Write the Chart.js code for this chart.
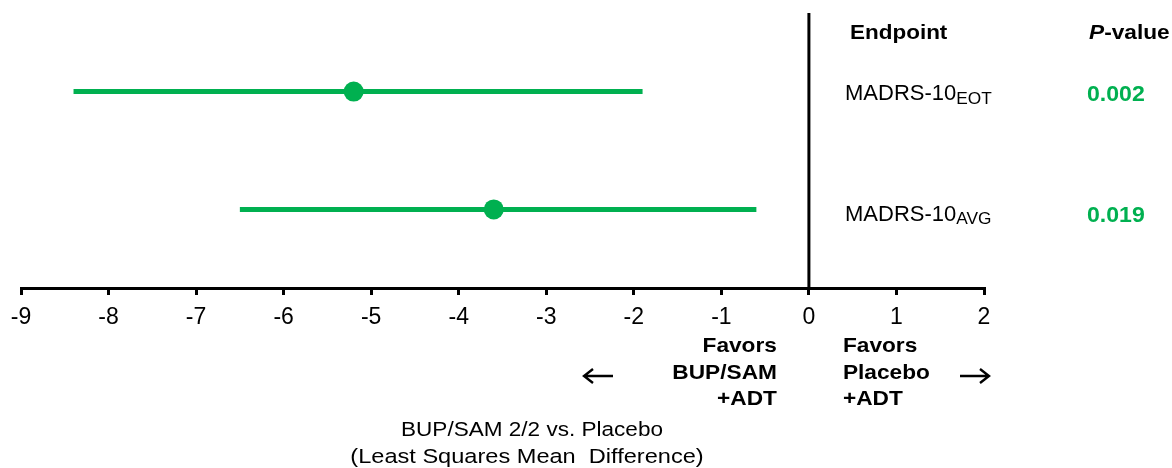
<!DOCTYPE html>
<html>
<head>
<meta charset="utf-8">
<title>Forest plot</title>
<script src="https://cdn.jsdelivr.net/npm/chart.js@4.4.1/dist/chart.umd.min.js"></script>
<style>
  html, body { margin: 0; padding: 0; background: #fff; }
  #wrap { position: relative; width: 1172px; height: 468px; }
</style>
</head>
<body>
<div id="wrap"><canvas id="forest"></canvas></div>
<script>
  // endpoints, estimates and confidence limits (LS mean difference)
  var endpoints = ['MADRS-10', 'MADRS-10'];
  var endpointSubs = ['EOT', 'AVG'];
  var estimates = [-5.2, -3.6];
  var lowerCI = [-8.4, -6.5];
  var upperCI = [-1.9, -0.6];
  var pValues = ['0.002', '0.019'];
  var rowY = [5, 2];
  var xTicks = [-9, -8, -7, -6, -5, -4, -3, -2, -1, 0, 1, 2];

  var green = '#00b050';
  var font = "'Liberation Sans', Arial, sans-serif";

  var datasets = [];

  // no-effect line at zero
  datasets.push({
    data: [{ x: 0, y: 0 }, { x: 0, y: 7 }],
    showLine: true,
    borderColor: '#000',
    borderWidth: 3,
    pointRadius: 0
  });

  // one horizontal bar per endpoint for the CI
  for (var i = 0; i < endpoints.length; i++) {
    datasets.push({
      data: [{ x: lowerCI[i], y: rowY[i] }, { x: upperCI[i], y: rowY[i] }],
      showLine: true,
      borderColor: green,
      borderWidth: 5,
      borderCapStyle: 'butt',
      pointRadius: 0
    });
  }

  // point estimates
  datasets.push({
    data: estimates.map(function(v, i) { return { x: v, y: rowY[i] }; }),
    backgroundColor: green,
    borderColor: green,
    pointRadius: 10,
    pointBorderWidth: 0
  });

  // text drawn a bit wider than the font's own proportions
  function wideText(ctx, text, x, y, sx) {
    ctx.save();
    ctx.translate(x, y);
    ctx.scale(sx, 1);
    ctx.fillText(text, 0, 0);
    ctx.restore();
  }

  function arrow(ctx, x0, x1, y) {
    var dir = x1 > x0 ? 1 : -1;
    ctx.beginPath();
    ctx.moveTo(x0, y);
    ctx.lineTo(x1, y);
    ctx.moveTo(x1 - dir * 9, y - 7);
    ctx.lineTo(x1, y);
    ctx.lineTo(x1 - dir * 9, y + 7);
    ctx.stroke();
  }

  var textPlugin = {
    id: 'forestText',
    afterDraw: function(chart) {
      var ctx = chart.ctx;
      var area = chart.chartArea;
      var xs = chart.scales.x;
      var ys = chart.scales.y;
      var colA = area.right - 140;
      var colB = area.right + 103;
      var rowShift = [8.5, 11.5];
      ctx.save();
      ctx.fillStyle = '#000';
      ctx.textBaseline = 'alphabetic';

      // column headers
      ctx.textAlign = 'left';
      ctx.font = 'bold 21px ' + font;
      wideText(ctx, 'Endpoint', colA + 6, 39, 1.07);
      ctx.font = 'italic bold 21px ' + font;
      var pw = ctx.measureText('P').width * 1.08;
      wideText(ctx, 'P', colB + 2, 39, 1.08);
      ctx.font = 'bold 21px ' + font;
      wideText(ctx, '-value', colB + 2 + pw, 39, 1.08);

      // rows: endpoint name with subscript, p-value
      for (var i = 0; i < endpoints.length; i++) {
        var y = ys.getPixelForValue(rowY[i]) + rowShift[i];
        ctx.fillStyle = '#000';
        ctx.font = '22px ' + font;
        ctx.fillText(endpoints[i], colA + 1, y);
        var w = ctx.measureText(endpoints[i]).width;
        ctx.font = '16px ' + font;
        wideText(ctx, endpointSubs[i], colA + 1 + w, y + 3.5, 1.08);
        ctx.fillStyle = green;
        ctx.font = 'bold 22px ' + font;
        wideText(ctx, pValues[i], colB, y + 1, 1.05);
      }

      // direction labels under the axis
      var zx = xs.getPixelForValue(0);
      ctx.fillStyle = '#000';
      ctx.font = 'bold 21px ' + font;
      ctx.textAlign = 'left';
      ['Favors', 'BUP/SAM', '+ADT'].forEach(function(t, k) {
        var tw = ctx.measureText(t).width * 1.08;
        wideText(ctx, t, zx - 32 - tw, 352 + k * 26.5, 1.08);
      });
      ['Favors', 'Placebo', '+ADT'].forEach(function(t, k) {
        wideText(ctx, t, zx + 34, 352 + k * 26.5, 1.08);
      });
      ctx.strokeStyle = '#000';
      ctx.lineWidth = 2.4;
      arrow(ctx, 613, 584, 376);
      arrow(ctx, 960, 989, 376);

      // axis title
      ctx.font = '20.5px ' + font;
      ctx.textAlign = 'left';
      var titleLines = ['BUP/SAM 2/2 vs. Placebo', '(Least Squares Mean  Difference)'];
      var titleSx = [1.1, 1.15];
      var titleCx = [532, 527];
      titleLines.forEach(function(t, k) {
        var tw = ctx.measureText(t).width * titleSx[k];
        wideText(ctx, t, titleCx[k] - tw / 2, 436 + k * 27, titleSx[k]);
      });
      ctx.restore();
    }
  };

  new Chart(document.getElementById('forest'), {
    type: 'scatter',
    data: { datasets: datasets },
    options: {
      responsive: true,
      maintainAspectRatio: false,
      animation: false,
      layout: { padding: { left: 21, right: 188, top: 13, bottom: 0 } },
      plugins: { legend: { display: false }, tooltip: { enabled: false } },
      scales: {
        x: {
          type: 'linear',
          min: -9,
          max: 2,
          afterBuildTicks: function(s) {
            s.ticks = xTicks.map(function(v) { return { value: v }; });
          },
          afterFit: function(s) { s.height = 180; },
          border: { display: true, color: '#000', width: 3 },
          grid: {
            drawOnChartArea: false,
            drawTicks: true,
            tickLength: 7,
            color: '#000',
            lineWidth: 3
          },
          ticks: {
            color: '#000',
            padding: 9,
            maxRotation: 0,
            font: { family: font, size: 23 }
          }
        },
        y: { display: false, min: 0, max: 7 }
      }
    },
    plugins: [textPlugin]
  });
</script>
</body>
</html>
